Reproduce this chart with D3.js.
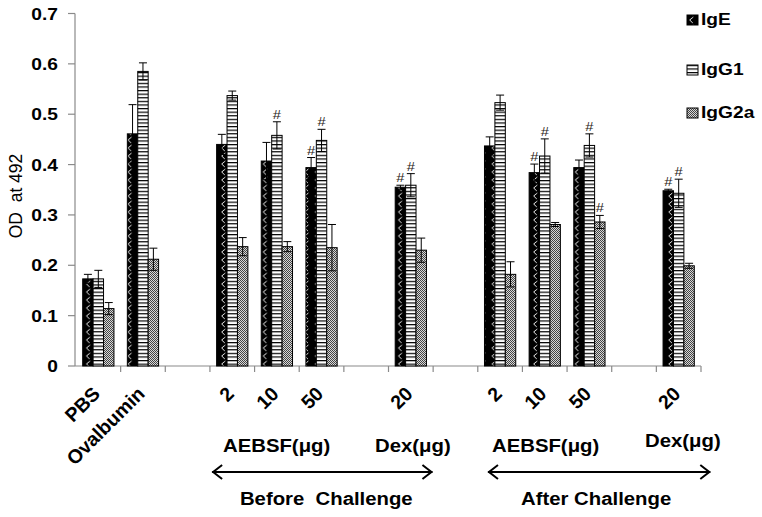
<!DOCTYPE html>
<html><head><meta charset="utf-8">
<script src="https://cdn.jsdelivr.net/npm/d3@7"></script>
<style>body{margin:0;background:#fff}svg{display:block}text{font-family:"Liberation Sans",Arial,sans-serif}</style>
</head><body>
<script>
// ---- data ----
const categories = ["PBS","Ovalbumin","gapA","B2","B10","B50","gapB","BDex20","gapC","A2","A10","A50","gapD","ADex20"];
const tickLabels = ["PBS","Ovalbumin","","2","10","50","","20","","2","10","50","","20"];
const seriesNames = ["IgE","IgG1","IgG2a"];
const IgE   = [0.173,0.461,null,0.440,0.407,0.394,null,0.355,null,0.437,0.384,0.394,null,0.348];
const IgG1  = [0.173,0.585,null,0.537,0.458,0.448,null,0.359,null,0.523,0.417,0.438,null,0.343];
const IgG2a = [0.114,0.212,null,0.237,0.237,0.235,null,0.230,null,0.182,0.281,0.286,null,0.199];
const errE   = [0.009,0.058,null,0.020,0.037,0.020,null,0.004,null,0.018,0.017,0.015,null,0.003];
const errG1  = [0.017,0.017,null,0.009,0.027,0.022,null,0.023,null,0.015,0.034,0.023,null,0.028];
const errG2a = [0.012,0.022,null,0.018,0.010,0.046,null,0.024,null,0.025,0.004,0.013,null,0.005];
const hashE   = [0,0,0,0,0,1,0,1,0,0,1,0,0,1];
const hashG1  = [0,0,0,0,1,1,0,1,0,0,1,1,0,1];
const hashG2a = [0,0,0,0,0,0,0,0,0,0,0,1,0,0];
const yTicks = [0,0.1,0.2,0.3,0.4,0.5,0.6,0.7];
const yTitle = "OD  at 492";
const groupLabels = [
  {text:"AEBSF(μg)", x:223, y:452},
  {text:"Dex(μg)", x:375, y:452},
  {text:"AEBSF(μg)", x:492, y:452},
  {text:"Dex(μg)", x:645, y:447}
];
const phases = [
  {text:"Before  Challenge", from:"B2", to:"BDex20", padL:-4.5, padR:6, dx:4},
  {text:"After Challenge", from:"A2", to:"ADex20", padL:3.5, padR:16, dx:-3}
];

const W=762,H=517, SX=1.13;
const svg=d3.select("body").append("svg").attr("width",W).attr("height",H);
const defs=svg.append("defs");
// patterns
const pE=defs.append("pattern").attr("id","pE").attr("patternUnits","userSpaceOnUse").attr("width",10.4).attr("height",8).attr("x",83);
pE.append("rect").attr("width",10.4).attr("height",8).attr("fill","#000");
pE.append("path").attr("d","M7,1 L3.5,4 L6.5,7").attr("stroke","#fff").attr("stroke-width",0.9).attr("fill","none");
const pG1=defs.append("pattern").attr("id","pG1").attr("patternUnits","userSpaceOnUse").attr("width",4).attr("height",3.6);
pG1.append("rect").attr("width",4).attr("height",3.6).attr("fill","#fff");
pG1.append("rect").attr("y",0).attr("width",4).attr("height",1.2).attr("fill","#000");
const pG2=defs.append("pattern").attr("id","pG2").attr("patternUnits","userSpaceOnUse").attr("width",2).attr("height",2);
pG2.append("rect").attr("width",2).attr("height",2).attr("fill","#d8d8d8");
pG2.append("rect").attr("width",1).attr("height",1).attr("fill","#444");
pG2.append("rect").attr("x",1).attr("y",1).attr("width",1).attr("height",1).attr("fill","#444");
const fills={IgE:"url(#pE)",IgG1:"url(#pG1)",IgG2a:"url(#pG2)"};

const x0=d3.scaleBand().domain(categories).range([76,701]).paddingInner(0.3).paddingOuter(0.15);
const x1=d3.scaleBand().domain(seriesNames).range([0,x0.bandwidth()]);
const y=d3.scaleLinear().domain([0,0.7]).range([366,13.5]);

function txt(g,x,yy,s,o={}){
  const tr = o.rot!=null ? `translate(${x},${yy}) rotate(${o.rot})` : `translate(${x},${yy}) scale(${SX},1)`;
  const t=g.append("text").attr("transform",tr)
   .text(s).attr("font-size",o.size||17).attr("font-weight",o.weight||"bold")
   .attr("text-anchor",o.anchor||"start").attr("fill",o.fill||"#000");
  if(o.pre) t.style("white-space","pre");
  return t;
}

// axes
const axisCol="#8a8a8a";
svg.append("line").attr("x1",75).attr("x2",75).attr("y1",y(0.7)).attr("y2",y(0)).attr("stroke",axisCol).attr("stroke-width",1.2);
yTicks.forEach(t=>{
  svg.append("line").attr("x1",68).attr("x2",75).attr("y1",y(t)).attr("y2",y(t)).attr("stroke",axisCol).attr("stroke-width",1.2);
  txt(svg,58,y(t)+6,String(t),{anchor:"end"});
});
svg.append("line").attr("x1",75).attr("x2",x0.range()[1]).attr("y1",y(0)).attr("y2",y(0)).attr("stroke",axisCol).attr("stroke-width",1.2);
categories.forEach((c,i)=>{
  const bx=x0(c)-x0.step()*x0.paddingInner()/2+x0.step();
  svg.append("line").attr("x1",bx).attr("x2",bx).attr("y1",y(0)).attr("y2",y(0)+6).attr("stroke",axisCol).attr("stroke-width",1.2);
});
txt(svg,22,196,yTitle,{rot:-90,anchor:"middle",weight:"normal",size:17.5,pre:true});

// bars
const data=[{name:"IgE",v:IgE,e:errE,h:hashE},{name:"IgG1",v:IgG1,e:errG1,h:hashG1},{name:"IgG2a",v:IgG2a,e:errG2a,h:hashG2a}];
data.forEach(s=>{
  const g=svg.append("g");
  categories.forEach((c,i)=>{
    const v=s.v[i]; if(v==null) return;
    const bx=x0(c)+x1(s.name), bw=x1.bandwidth();
    g.append("rect").attr("x",bx).attr("y",y(v)).attr("width",bw).attr("height",y(0)-y(v))
     .attr("fill",fills[s.name]).attr("stroke","#000").attr("stroke-width",1);
    const cx=bx+bw/2, e=s.e[i];
    g.append("line").attr("x1",cx).attr("x2",cx).attr("y1",y(v+e)).attr("y2",y(v-e)).attr("stroke","#000").attr("stroke-width",1);
    g.append("line").attr("x1",cx-4).attr("x2",cx+4).attr("y1",y(v+e)).attr("y2",y(v+e)).attr("stroke","#000").attr("stroke-width",1);
    g.append("line").attr("x1",cx-4).attr("x2",cx+4).attr("y1",y(v-e)).attr("y2",y(v-e)).attr("stroke","#000").attr("stroke-width",1);
    if(s.h[i]) txt(g,cx,y(v+e)-3,"#",{anchor:"middle",size:13,weight:"normal",fill:"#2a2418"});
  });
});

// x tick labels
categories.forEach((c,i)=>{
  if(!tickLabels[i]) return;
  txt(svg,x0(c)+x0.bandwidth()/2+3,395,tickLabels[i],{rot:-45,anchor:"end",size:19.5});
});
groupLabels.forEach(l=>txt(svg,l.x,l.y,l.text,{size:18}));

// phase arrows
phases.forEach(p=>{
  const xa=x0(p.from)+p.padL, xb=x0(p.to)+x0.bandwidth()+p.padR, ay=472;
  svg.append("line").attr("x1",xa).attr("x2",xb).attr("y1",ay).attr("y2",ay).attr("stroke","#000").attr("stroke-width",2);
  svg.append("path").attr("d",`M${xa+10},${ay-7} L${xa+1},${ay} L${xa+10},${ay+7}`).attr("stroke","#000").attr("stroke-width",2).attr("fill","none");
  svg.append("path").attr("d",`M${xb-10},${ay-7} L${xb-1},${ay} L${xb-10},${ay+7}`).attr("stroke","#000").attr("stroke-width",2).attr("fill","none");
  txt(svg,(xa+xb)/2+p.dx,505,p.text,{size:18,anchor:"middle",pre:true});
});

// legend
const legY=[25,75,118];
seriesNames.forEach((n,i)=>{
  svg.append("rect").attr("x",687).attr("y",legY[i]-10).attr("width",11).attr("height",10).attr("fill",fills[n]).attr("stroke","#000");
  txt(svg,701,legY[i],n,{});
});
</script>
</body></html>
